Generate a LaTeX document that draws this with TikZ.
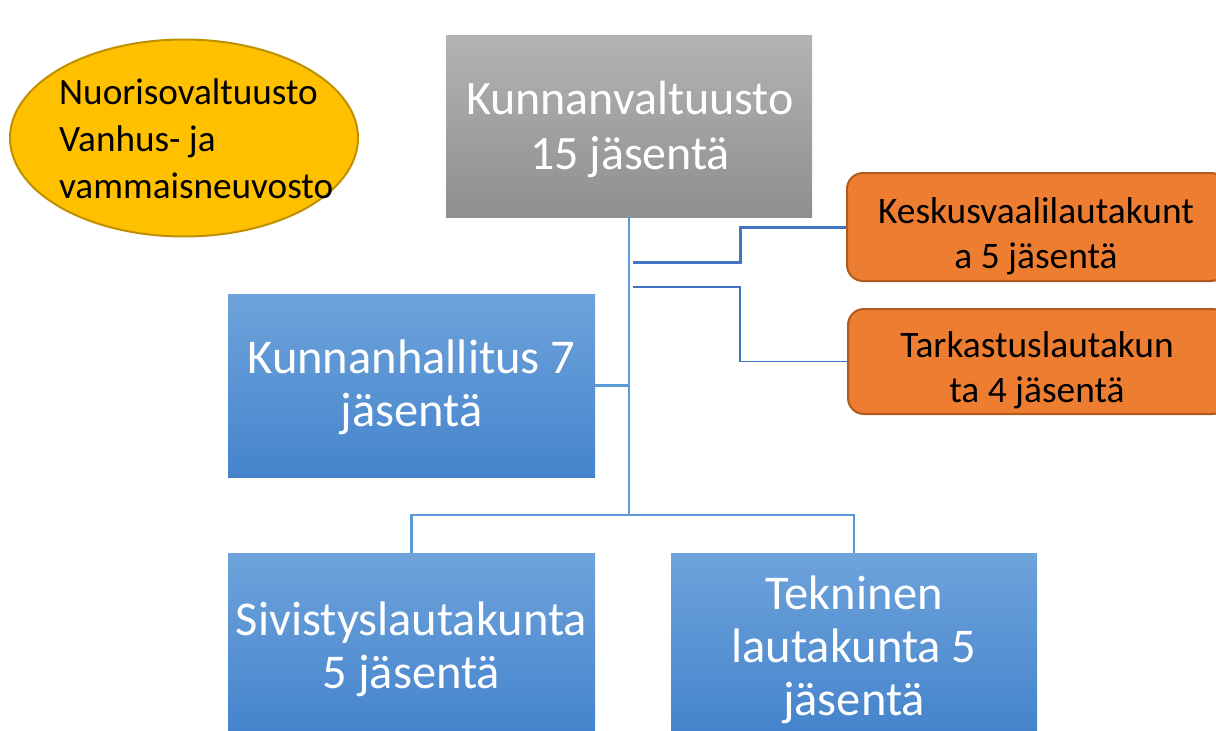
\documentclass[tikz,border=0pt]{standalone}
\usepackage{fontspec}
\setmainfont{Carlito}
\usetikzlibrary{shapes.geometric}
\definecolor{gtop}{HTML}{B3B3B3}
\definecolor{gbot}{HTML}{8F8F8F}
\definecolor{btop}{HTML}{6EA3DB}
\definecolor{bbot}{HTML}{4584CC}
\definecolor{orfill}{HTML}{ED7D31}
\definecolor{ordraw}{HTML}{AE5A21}
\definecolor{yefill}{HTML}{FFC000}
\definecolor{yedraw}{HTML}{BF9000}
\definecolor{conn}{HTML}{5B9BD5}
\definecolor{conndark}{HTML}{4472C4}
\tikzset{
  graybox/.style={rectangle, inner sep=0pt, top color=gtop, bottom color=gbot},
  graytext/.style={inner sep=0pt, text=white, align=center, font=\fontsize{48}{55}\selectfont},
  bluebox/.style={rectangle, inner sep=0pt, top color=btop, bottom color=bbot},
  bluetext/.style={inner sep=0pt, text=white, align=center, font=\fontsize{48.5}{53}\selectfont},
  orbox/.style={rectangle, rounded corners=16pt, inner sep=0pt, fill=orfill, draw=ordraw, line width=2pt},
  ortext/.style={inner sep=0pt, align=center, text=black, font=\fontsize{37.4}{45}\selectfont},
  yeell/.style={ellipse, inner sep=0pt, fill=yefill, draw=yedraw, line width=2pt},
  yetext/.style={inner sep=0pt, align=left, text=black, font=\fontsize{37.2}{47}\selectfont},
  link/.style={draw=conn, line width=2.6pt},
  linkthick/.style={draw=conndark, line width=3pt},
  linkthin/.style={draw=conndark, line width=1.5pt},
}
\begin{document}
\begin{tikzpicture}[x=1pt,y=-1pt]
\useasboundingbox (0,0) rectangle (1216,731);
\clip (0,0) rectangle (1216,731);
% ellipse
\node[yeell, minimum width=348pt, minimum height=197pt] (ell) at (184,138) {};
\node[yetext, anchor=west] (elltext) at (59,139) {Nuorisovaltuusto\\Vanhus- ja\\vammaisneuvosto};
% main boxes
\node[graybox, minimum width=366pt, minimum height=182pt] (kv) at (629,126) {};
\node[graytext] (kvtext) at (630,129) {Kunnanvaltuusto\\15 jäsentä};
\node[bluebox, minimum width=367pt, minimum height=183pt] (kh) at (411.5,385.5) {};
\node[bluetext] (khtext) at (411.5,387.5) {Kunnanhallitus 7\\jäsentä};
\node[bluebox, minimum width=367pt, minimum height=178pt] (sv) at (411.5,642) {};
\node[bluetext] (svtext) at (411.5,649) {Sivistyslautakunta\\5 jäsentä};
\node[bluebox, minimum width=366pt, minimum height=178pt] (tk) at (854,642) {};
\node[bluetext] (tktext) at (854,650) {Tekninen\\lautakunta 5\\jäsentä};
% orange boxes
\node[orbox, minimum width=380pt, minimum height=108pt] (kvl) at (1037,227) {};
\node[ortext] (kvltext) at (1036,236) {Keskusvaalilautakunt\\a 5 jäsentä};
\node[orbox, minimum width=380pt, minimum height=105pt] (tl) at (1038,361.5) {};
\node[ortext] (tltext) at (1037,370) {Tarkastuslautakun\\ta 4 jäsentä};
% connectors
\coordinate (jb) at (629,515);
\coordinate (k0) at (633,262);
\coordinate (t0) at (633,287);
\draw[link] (kv.south) -- (jb);
\draw[link] (kh.east) -- (kh.east -| kv.south);
\draw[link] (jb) -| (sv.north);
\draw[link] (jb) -| (tk.north);
\draw[linkthick] (k0) -- (740,262) |- (kvl.west);
\draw[linkthin] (t0) -- (740,287) |- (tl.west);
\end{tikzpicture}
\end{document}
